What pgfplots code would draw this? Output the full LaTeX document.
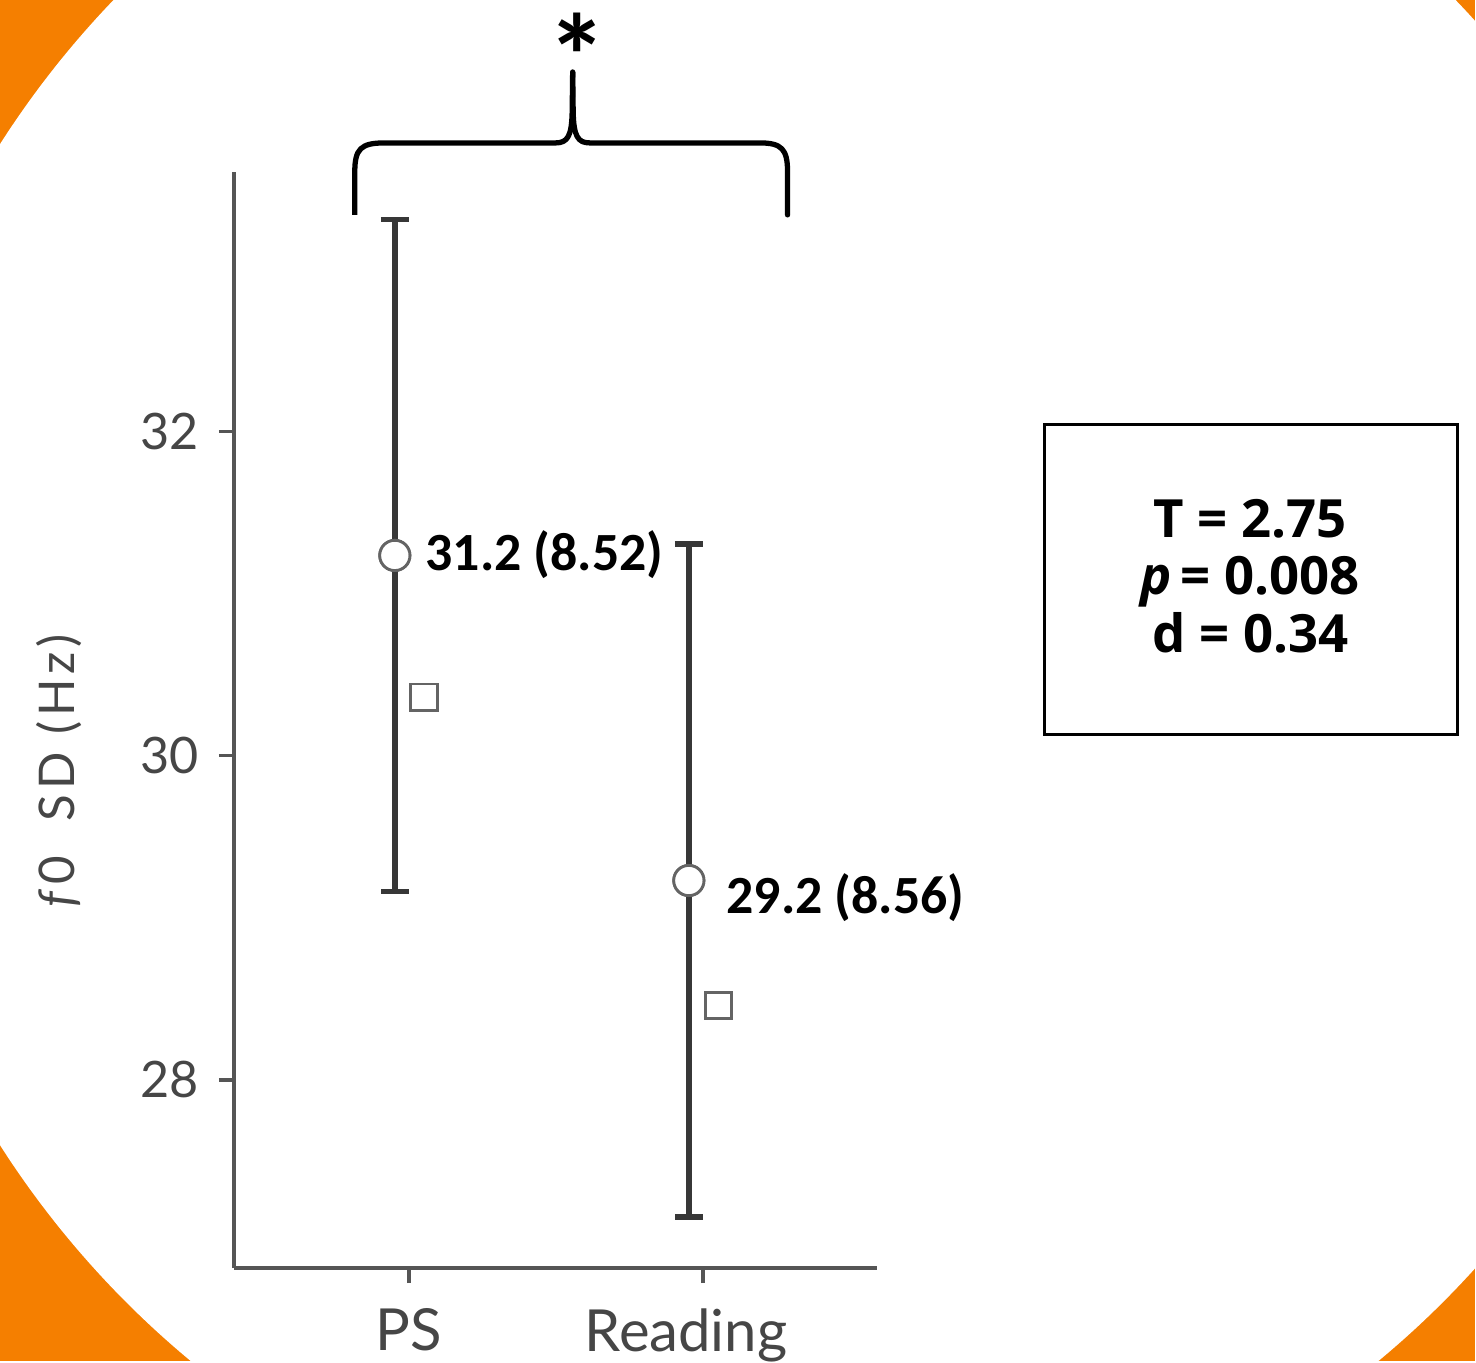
\documentclass[border=0pt]{standalone}
\usepackage{fontspec}
\setmainfont{Lato}
\newfontfamily\carlito{Carlito}
\newfontfamily\opensans{Open Sans}
\newfontfamily\ylabfont[LetterSpace=10]{Lato}
\usepackage{pgfplots}
\pgfplotsset{compat=1.18}
\definecolor{bgorange}{RGB}{245,127,0}
\definecolor{axisgray}{RGB}{85,85,85}
\definecolor{bargray}{RGB}{55,55,55}
\definecolor{markgray}{RGB}{100,100,100}
\definecolor{ticktext}{RGB}{70,70,70}
\begin{document}
\begin{tikzpicture}
\useasboundingbox (0,0) rectangle (14.76cm,13.62cm);
\clip (0,0) rectangle (14.76cm,13.62cm);
\begin{scope}[x=0.01cm,y=-0.01cm,shift={(0,13.62cm)}]
  \fill[bgorange] (0,0) rectangle (1476,1362);
  \fill[white] (785,645) circle [radius=931];
\end{scope}
\begin{axis}[
  at={(2.34cm,0.94cm)}, anchor=south west,
  scale only axis, width=6.43cm, height=10.96cm,
  xmin=-0.595, xmax=1.592, ymin=26.84, ymax=33.60,
  axis x line*=bottom, axis y line*=left,
  axis line style={draw=axisgray, line width=0.9pt},
  xtick={0,1}, xticklabels={PS, {\hspace*{-0.34cm}Reading}},
  ytick={28,30,32},
  tick align=outside,
  major tick length=0.15cm,
  tick style={draw=axisgray, line width=0.9pt},
  /pgf/number format/assume math mode=true,
  yticklabel style={font=\fontsize{14.3}{16}\selectfont, text=ticktext, xshift=-0.08cm},
  xticklabel style={font=\fontsize{16.5}{18}\selectfont, text=ticktext, yshift=-0.13cm},
  ylabel={\textit{f}0\ \ SD (Hz)},
  ylabel style={at={(axis description cs:-0.272,0.4535)}, anchor=center, font=\ylabfont\fontsize{14}{16}\selectfont, text=ticktext},
  clip=false,
]
% error bars with circle means
\addplot[draw=none, mark=*, mark size=4.3pt,
  mark options={fill=white, draw=markgray, line width=0.8pt},
  error bars/.cd, y dir=both, y explicit,
  error bar style={draw=bargray, line width=1.6pt},
  error mark options={rotate=90, draw=bargray, line width=1.6pt, mark size=4pt}]
  coordinates {(-0.048,31.235) +- (0,2.072) (0.952,29.23) +- (0,2.077)};
% redraw circles on top of bars
\addplot[draw=none, mark=*, mark size=4.3pt,
  mark options={fill=white, draw=markgray, line width=0.8pt}]
  coordinates {(-0.048,31.235) (0.952,29.23)};
% squares
\addplot[draw=none, mark=square, mark size=3.8pt,
  mark options={draw=markgray, line width=0.8pt}]
  coordinates {(0.051,30.36) (1.053,28.459)};
\node[anchor=base west, inner sep=0pt, font=\carlito\bfseries\fontsize{15.3}{17}\selectfont] at (axis cs:0.054,31.143) {31.2 (8.52)};
\node[anchor=base west, inner sep=0pt, font=\carlito\bfseries\fontsize{15.3}{17}\selectfont] at (axis cs:1.078,29.026) {29.2 (8.56)};
\end{axis}
\begin{scope}[x=0.01cm,y=-0.01cm,shift={(0,13.62cm)}]
  % brace
  \draw[line width=1.5pt, line cap=butt, line join=round]
    (355,215) -- (355,172) .. controls (355,149) and (361,143) .. (385,143)
    -- (556,143) .. controls (568,143) and (572,136) .. (572.5,112) -- (573,72);
  \draw[line width=1.5pt, line cap=round, line join=round]
    (573,72) -- (573.5,112) .. controls (574,136) and (578,143) .. (590,143)
    -- (760,143) .. controls (782,143) and (788,149) .. (788,172) -- (788,215);
  \node[anchor=north, inner sep=0pt, font=\carlito\bfseries\fontsize{34}{36}\selectfont] at (578,12) {*};
  % stats box
  \draw[line width=0.9pt] (1045,425) rectangle (1458,735);
  \node[anchor=base, inner sep=0pt, font=\opensans\bfseries\fontsize{15}{18}\selectfont] at (1251,538) {T = 2.75};
  \node[anchor=base, inner sep=0pt, font=\opensans\bfseries\fontsize{15}{18}\selectfont] at (1251,595) {\textit{p}\,= 0.008};
  \node[anchor=base, inner sep=0pt, font=\opensans\bfseries\fontsize{15}{18}\selectfont] at (1251,653) {d = 0.34};
\end{scope}
\end{tikzpicture}
\end{document}
